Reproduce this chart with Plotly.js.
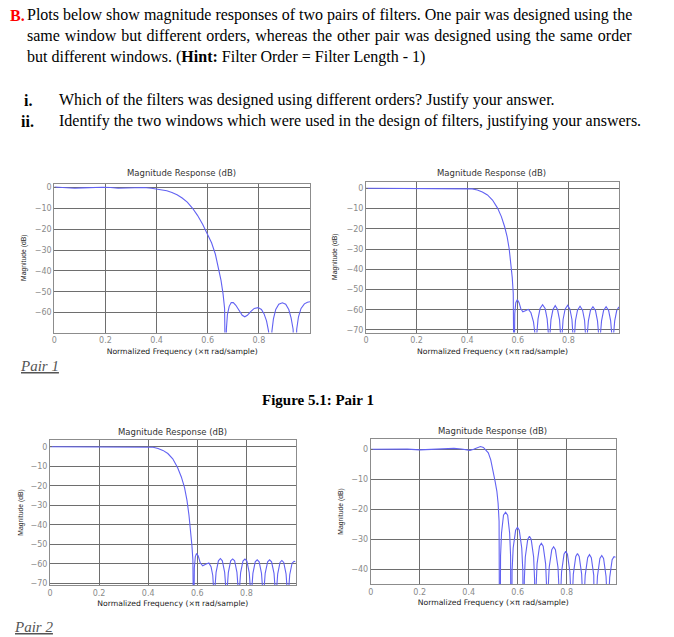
<!DOCTYPE html>
<html><head><meta charset="utf-8">
<script src="https://cdn.plot.ly/plotly-3.0.1.min.js"></script>
<style>html,body{margin:0;padding:0;background:#fff}#chart{width:674px;height:637px}</style>
</head><body><div id="chart"></div>
<script>
// ---------- data (normalized frequency, magnitude dB) ----------
// Pair 1, left filter
const f1 = [0,0.02,0.05,0.08,0.11,0.15,0.19,0.22,0.25,0.28,0.32,0.35,0.38,0.40,0.42,0.44,0.46,0.48,0.50,0.52,0.54,0.56,0.58,0.60,0.615,0.63,0.642,0.652,0.66,0.666,0.670,
  0.673,0.677,0.684,0.692,0.700,0.710,0.722,0.735,0.745,0.755,0.768,0.782,0.797,0.81,0.82,0.83,0.838,0.845,
  0.851,0.857,0.866,0.878,0.892,0.905,0.917,0.926,0.934,0.942,0.948,0.955,0.965,0.978,0.99,1.0];
const m1 = [0.3,0.15,-0.15,-0.3,-0.15,0.1,0.2,0.05,-0.3,-0.2,0.1,0.05,-0.3,-0.6,-0.9,-1.5,-2.3,-3.4,-5.0,-7.0,-9.8,-13.3,-17.6,-22.3,-26.5,-32,-38,-44.5,-51,-58,-100,
  -68,-61,-57,-55.2,-55.2,-56.5,-59,-61.3,-62,-61.3,-59.5,-58,-57.6,-58.5,-60.5,-64,-69,-100,
  -69,-63,-58.5,-56,-55.3,-56,-58.5,-62.5,-68,-100,-68,-62,-58,-55.8,-55,-54.8];

// Pair 1, right filter
const f2 = [0,0.1,0.2,0.3,0.38,0.40,0.42,0.44,0.46,0.48,0.50,0.52,0.535,0.548,0.558,0.566,0.573,0.578,0.582,0.585,
  0.588,0.592,0.598,0.605,0.612,0.62,0.63,0.642,0.652,0.662,0.668,0.672,
  0.675,0.680,0.688,0.698,0.708,0.716,0.721,0.724,
  0.727,0.731,0.739,0.748,0.757,0.765,0.769,0.772,
  0.775,0.779,0.787,0.797,0.806,0.814,0.818,0.821,
  0.824,0.828,0.836,0.846,0.856,0.864,0.868,0.871,
  0.874,0.879,0.887,0.897,0.907,0.915,0.920,0.923,
  0.926,0.931,0.939,0.949,0.959,0.967,0.972,0.975,
  0.978,0.983,0.991,1.0];
const m2 = [0,0,0,0,-0.05,-0.1,-0.3,-0.8,-1.8,-3.3,-5.8,-9.8,-14,-19,-24,-30,-37,-44,-52,-100,
  -62,-56.5,-55,-56.5,-59.5,-61,-60.5,-59.8,-61.5,-66,-72,-100,
  -72,-64.5,-59.4,-57.5,-59.4,-64.5,-72,-100,
  -72.5,-65,-59.9,-58,-59.9,-65,-72.5,-100,
  -72.3,-64.8,-59.7,-57.8,-59.7,-64.8,-72.3,-100,
  -72.8,-65.3,-60.2,-58.3,-60.2,-65.3,-72.8,-100,
  -73,-65.5,-60.4,-58.5,-60.4,-65.5,-73,-100,
  -73,-65.5,-60.4,-58.5,-60.4,-65.5,-73,-100,
  -73,-65.5,-60.4,-58.6];

// Pair 2, left filter
const f3 = [0,0.1,0.2,0.3,0.40,0.42,0.44,0.46,0.48,0.50,0.52,0.535,0.548,0.558,0.566,0.573,0.578,0.582,0.585,
  0.588,0.592,0.597,0.604,0.612,0.622,0.634,0.647,0.656,0.663,0.666,0.669,
  0.672,0.6765,0.686,0.694,0.702,0.7115,0.716,0.719,
  0.722,0.7265,0.736,0.744,0.752,0.7615,0.766,0.769,
  0.772,0.7765,0.786,0.794,0.802,0.8115,0.816,0.819,
  0.822,0.8265,0.836,0.844,0.852,0.8615,0.866,0.869,
  0.872,0.8765,0.8865,0.8945,0.9025,0.9125,0.917,0.920,
  0.923,0.9275,0.937,0.9445,0.952,0.9615,0.966,0.969,
  0.972,0.9765,0.986,0.994,1.0];
const m3 = [0,0,0,0,-0.05,-0.3,-0.9,-1.9,-3.5,-6.2,-10.8,-15.5,-21,-27.5,-35,-43,-50.5,-58,-100,
  -62,-56.3,-54.7,-56,-59.5,-61,-60.2,-59.6,-61.5,-66,-72,-100,
  -72,-64.4,-58.5,-57.3,-58.5,-64.4,-72,-100,
  -72.1,-64.4,-58.5,-57.5,-58.5,-64.4,-72.1,-100,
  -72.2,-64.5,-58.6,-57.6,-58.6,-64.5,-72.2,-100,
  -72.6,-64.9,-59,-58,-59,-64.9,-72.6,-100,
  -72.6,-64.9,-59,-58,-59,-64.9,-72.6,-100,
  -72.9,-65.2,-59.3,-58.3,-59.3,-65.2,-72.9,-100,
  -73.3,-65.6,-59.7,-58.7,-58.9];

// Pair 2, right filter
const f4 = [0,0.05,0.1,0.15,0.2,0.25,0.3,0.34,0.37,0.39,0.405,0.42,0.435,0.448,0.46,0.47,0.48,0.49,0.50,0.508,0.515,0.52,0.524,0.527,
  0.530,0.534,0.542,0.5505,0.559,0.567,0.571,0.574,
  0.577,0.5815,0.5915,0.599,0.6065,0.6165,0.621,0.624,
  0.627,0.631,0.641,0.648,0.655,0.665,0.669,0.672,
  0.675,0.679,0.689,0.6965,0.704,0.714,0.718,0.721,
  0.724,0.7285,0.739,0.7465,0.754,0.7645,0.769,0.772,
  0.775,0.779,0.789,0.796,0.803,0.813,0.817,0.820,
  0.823,0.827,0.837,0.844,0.851,0.861,0.865,0.868,
  0.871,0.8755,0.8855,0.893,0.9005,0.9105,0.915,0.918,
  0.921,0.9255,0.9355,0.943,0.9505,0.9605,0.965,0.968,
  0.971,0.9755,0.9855,0.993,1.0];
const m4 = [0,0.1,0.2,0.05,-0.2,-0.05,0.15,0.3,0.1,-0.3,-0.35,0,0.6,0.9,0.6,-0.2,-1.2,-3.5,-7,-10.8,-14,-18,-24,-100,
  -35.6,-27.9,-22,-21,-22,-27.9,-35.6,-100,
  -40.6,-32.9,-27,-26,-27,-32.9,-40.6,-100,
  -43.6,-35.9,-30,-29,-30,-35.9,-43.6,-100,
  -45.9,-38.2,-32.3,-31.3,-32.3,-38.2,-45.9,-100,
  -47.1,-39.4,-33.5,-32.5,-33.5,-39.4,-47.1,-100,
  -48.6,-40.9,-35,-34,-35,-40.9,-48.6,-100,
  -49.3,-41.6,-35.7,-34.7,-35.7,-41.6,-49.3,-100,
  -49.7,-42,-36.1,-35.1,-36.1,-42,-49.7,-100,
  -50,-42.3,-36.4,-35.4,-36.4,-42.3,-50,-100,
  -50.4,-42.7,-36.8,-35.8,-36];

// tick labels
const fTickVals = [0,0.2,0.4,0.6,0.8];
const fTickText = ['0','0.2','0.4','0.6','0.8'];
const yTicks70 = [-70,-60,-50,-40,-30,-20,-10,0];
const yTicks40 = [-40,-30,-20,-10,0];

// ---------- layout ----------
const W = 674, H = 637;
const GRID = '#6e6e6e', BOX = '#8c8c8c', CURVE = '#6262f2';
const TICKFONT = {family:'DejaVu Sans, Arial', size:8, color:'#8a8a8a'};
const XTITLE = 'Normalized Frequency (\u00d7\u03c0 rad/sample)';
const YTITLE = 'Magnitude (dB)';
const PTITLE = 'Magnitude Response (dB)';

function xAxis(x0, x1, anchor) {
  return {domain:[x0/W, x1/W], anchor, range:[0,1], tickmode:'array', tickvals:fTickVals, ticktext:fTickText,
    showgrid:true, gridcolor:GRID, gridwidth:1, zeroline:false, showline:true, linecolor:BOX, linewidth:1,
    mirror:'ticks', ticks:'inside', ticklen:2, tickcolor:GRID, tickfont:TICKFONT, fixedrange:true,
    title:{text:XTITLE, font:{family:'DejaVu Sans, Arial', size:7.7, color:'#222'}, standoff:4}};
}
function yAxis(top, bottom, range, ticks, anchor) {
  return {domain:[1-bottom/H, 1-top/H], anchor, range, tickmode:'array', tickvals:ticks,
    showgrid:true, gridcolor:GRID, gridwidth:1, zeroline:false, showline:true, linecolor:BOX, linewidth:1,
    mirror:'ticks', ticks:'inside', ticklen:2, tickcolor:GRID, tickfont:TICKFONT, fixedrange:true};
}

const layout = {
  width:W, height:H, margin:{l:0,r:0,t:0,b:0}, paper_bgcolor:'#fff', plot_bgcolor:'#fff', showlegend:false,
  xaxis:  xAxis(54.3, 310, 'y'),
  yaxis:  yAxis(183.5, 332.5, [-69.55, 1.97], yTicks70, 'x'),
  xaxis2: xAxis(366, 619, 'y2'),
  yaxis2: yAxis(182, 332.5, [-71.24, 3.11], yTicks70, 'x2'),
  xaxis3: xAxis(50, 295.5, 'y3'),
  yaxis3: yAxis(440, 585, [-70.87, 3.43], yTicks70, 'x3'),
  xaxis4: xAxis(370.7, 615.7, 'y4'),
  yaxis4: yAxis(439.3, 584, [-44.9, 3.33], yTicks40, 'x4'),
  annotations: []
};

function ann(text, x, y, opts) {
  return Object.assign({text, x:x/W, y:1-y/H, xref:'paper', yref:'paper', showarrow:false,
    xanchor:'left', yanchor:'middle', font:{family:'Liberation Serif, Times New Roman', size:16, color:'#000'}}, opts||{});
}
const PT = {family:'DejaVu Sans, Arial', size:8.5, color:'#333'};
const YT = {family:'Liberation Sans, Arial', size:6.8, color:'#222'};
layout.annotations.push(
  ann('<b>B.</b>', 8, 15, {font:{family:'Liberation Serif', size:16, color:'#ff0000'}}),
  ann('Plots below show magnitude responses of two pairs of filters. One pair was designed using the', 25, 15),
  ann('<span style="word-spacing:0.9px">same window but different orders, whereas the other pair was designed using the same order</span>', 25, 36),
  ann('but different windows. (<b>Hint:</b> Filter Order = Filter Length - 1)', 25, 57),
  ann('<b>i.</b>', 22, 100),
  ann('Which of the filters was designed using different orders? Justify your answer.', 57, 100),
  ann('<b>ii.</b>', 19, 121),
  ann('Identify the two windows which were used in the design of filters, justifying your answers.', 57, 121),
  ann('<i><u>Pair 1</u></i>', 18, 366, {font:{family:'Liberation Serif', size:15, color:'#555'}}),
  ann('<b>Figure 5.1: Pair 1</b>', 260, 400, {font:{family:'Liberation Serif', size:15, color:'#000'}}),
  ann('<i><u>Pair 2</u></i>', 12, 627, {font:{family:'Liberation Serif', size:15, color:'#555'}}),
  ann(PTITLE, 181, 173, {xanchor:'center', font:PT}),
  ann(PTITLE, 491, 173, {xanchor:'center', font:PT}),
  ann(PTITLE, 172, 432, {xanchor:'center', font:PT}),
  ann(PTITLE, 492, 431, {xanchor:'center', font:PT}),
  ann(YTITLE, 24, 258, {xanchor:'center', textangle:-90, font:YT}),
  ann(YTITLE, 335, 257, {xanchor:'center', textangle:-90, font:YT}),
  ann(YTITLE, 20.7, 513, {xanchor:'center', textangle:-90, font:YT}),
  ann(YTITLE, 340.7, 512, {xanchor:'center', textangle:-90, font:YT})
);

const line = {color:CURVE, width:1.1};
const data = [
  {x:f1, y:m1, xaxis:'x',  yaxis:'y',  type:'scatter', mode:'lines', line, hoverinfo:'skip'},
  {x:f2, y:m2, xaxis:'x2', yaxis:'y2', type:'scatter', mode:'lines', line, hoverinfo:'skip'},
  {x:f3, y:m3, xaxis:'x3', yaxis:'y3', type:'scatter', mode:'lines', line, hoverinfo:'skip'},
  {x:f4, y:m4, xaxis:'x4', yaxis:'y4', type:'scatter', mode:'lines', line, hoverinfo:'skip'}
];
Plotly.newPlot('chart', data, layout, {staticPlot:true, displayModeBar:false});
</script></body></html>
